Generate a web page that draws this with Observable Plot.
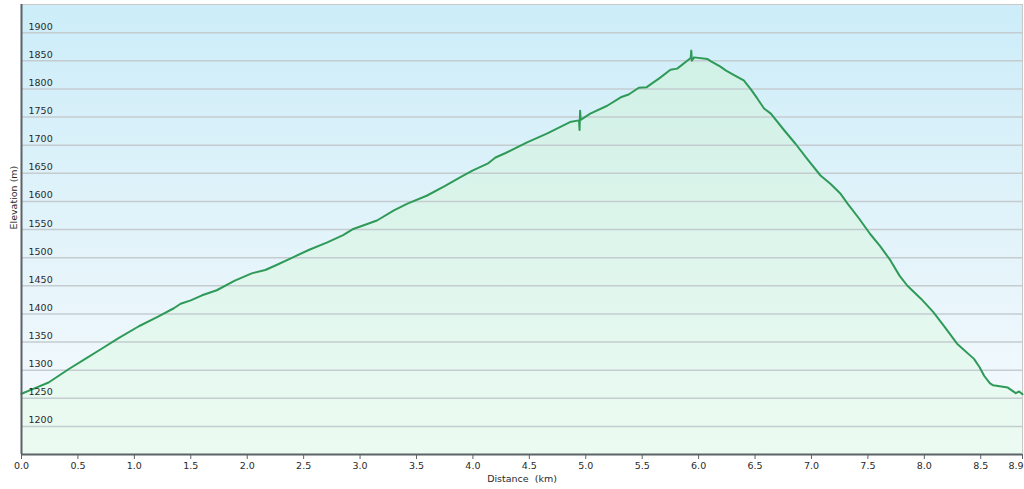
<!DOCTYPE html>
<html><head><meta charset="utf-8">
<script src="https://cdn.jsdelivr.net/npm/d3@7"></script>
<script src="https://cdn.jsdelivr.net/npm/@observablehq/plot@0.6"></script>
<style>body{margin:0;background:#fff;overflow:hidden;} svg{display:block;}</style>
</head><body><div id="chart"></div>
<script>
const distanceKm = [0.00,0.12,0.24,0.33,0.42,0.565,0.71,0.86,1.04,1.21,1.35,1.41,1.50,1.60,1.73,1.89,2.04,2.16,2.25,2.41,2.55,2.71,2.85,2.94,3.15,3.30,3.42,3.59,3.75,3.89,4.00,4.13,4.20,4.29,4.48,4.66,4.86,4.94,4.945,4.95,4.955,5.04,5.19,5.31,5.38,5.47,5.54,5.66,5.75,5.81,5.93,5.935,5.94,5.96,6.08,6.11,6.19,6.24,6.31,6.40,6.46,6.52,6.58,6.64,6.76,6.86,6.96,7.08,7.17,7.26,7.32,7.42,7.52,7.61,7.70,7.78,7.85,7.97,8.08,8.18,8.29,8.44,8.49,8.53,8.58,8.61,8.74,8.81,8.84,8.87];
const elevationM = [1258,1268,1278,1290,1302,1320,1338,1357,1378,1395,1410,1418,1424,1433,1442,1459,1472,1478,1486,1501,1514,1527,1540,1551,1566,1584,1596,1610,1627,1643,1655,1667,1678,1686,1705,1721,1741,1744,1727,1761,1745,1756,1770,1785,1790,1802,1803,1820,1834,1836,1855,1868,1850,1856,1853,1849,1840,1833,1825,1815,1800,1783,1765,1756,1726,1702,1676,1646,1631,1613,1596,1570,1542,1520,1495,1468,1450,1427,1403,1377,1347,1320,1305,1290,1277,1273,1269,1259,1262,1257];
const xTickValues = [0,0.5,1,1.5,2,2.5,3,3.5,4,4.5,5,5.5,6,6.5,7,7.5,8,8.5,8.87];
const xTickLabels = ["0.0","0.5","1.0","1.5","2.0","2.5","3.0","3.5","4.0","4.5","5.0","5.5","6.0","6.5","7.0","7.5","8.0","8.5","8.9"];
const yTickValues = [1200,1250,1300,1350,1400,1450,1500,1550,1600,1650,1700,1750,1800,1850,1900];
const xLabel = "Distance\u00a0 (km)";
const yLabel = "Elevation (m)";

const data = distanceKm.map((d, i) => ({km: d, m: elevationM[i]}));
const FONT = "DejaVu Sans";
const lastI = xTickValues.length - 1;

function gradients() {
  const defs = d3.create("svg:defs");
  const bg = defs.append("linearGradient").attr("id", "bgGrad").attr("x1", 0).attr("y1", 0).attr("x2", 0).attr("y2", 1);
  bg.append("stop").attr("offset", "0%").attr("stop-color", "#ccedf9");
  bg.append("stop").attr("offset", "50%").attr("stop-color", "#e2f3fa");
  bg.append("stop").attr("offset", "100%").attr("stop-color", "#f7fbfe");
  const ar = defs.append("linearGradient").attr("id", "areaGrad").attr("x1", 0).attr("y1", 0).attr("x2", 0).attr("y2", 1);
  ar.append("stop").attr("offset", "0%").attr("stop-color", "#d0f0e6");
  ar.append("stop").attr("offset", "100%").attr("stop-color", "#ecfbf2");
  return defs.node();
}

const chart = Plot.plot({
  width: 1024,
  height: 489,
  marginLeft: 21,
  marginRight: 2,
  marginTop: 4,
  marginBottom: 35,
  style: {fontFamily: FONT, fontSize: "9.5px", color: "#2a2a2a", background: "#fff"},
  x: {domain: [0, 8.87], axis: null},
  y: {domain: [1150, 1950], axis: null},
  marks: [
    gradients,
    Plot.frame({fill: "url(#bgGrad)", stroke: "#c8c8c8"}),
    Plot.areaY(data, {x: "km", y1: 1150, y2: "m", fill: "url(#areaGrad)"}),
    Plot.ruleY(yTickValues, {stroke: "#c4ccd0", strokeWidth: 1.5}),
    Plot.lineY(data, {x: "km", y: "m", stroke: "#2f9a58", strokeWidth: 2}),
    Plot.text(yTickValues, {x: 0, y: d => d, text: d => String(d), textAnchor: "start", dx: 7, dy: -6, fill: "#2a2a2a", fontSize: 9.5}),
    Plot.ruleX([0], {stroke: "#5b6367", strokeWidth: 2}),
    Plot.ruleY([1150], {stroke: "#5b6367", strokeWidth: 2}),
    Plot.axisX({ticks: xTickValues, tickFormat: (d, i) => i === lastI ? "" : xTickLabels[i], tickSize: 5, tickPadding: 3, stroke: "#5b6367", fill: "#2a2a2a", label: null, fontSize: 9.5}),
    Plot.text([xTickValues[lastI]], {x: d => d, frameAnchor: "bottom", text: () => xTickLabels[lastI], textAnchor: "end", lineAnchor: "top", dx: 1, dy: 8, fill: "#2a2a2a", fontSize: 9.5}),
    Plot.text([xLabel], {frameAnchor: "bottom", dy: 27, fill: "#2a2a2a", fontSize: 9.5}),
    Plot.text([yLabel], {frameAnchor: "left", rotate: -90, dx: -8, fill: "#2a2a2a", fontSize: 9.5})
  ]
});
document.getElementById("chart").appendChild(chart);
</script>
</body></html>
